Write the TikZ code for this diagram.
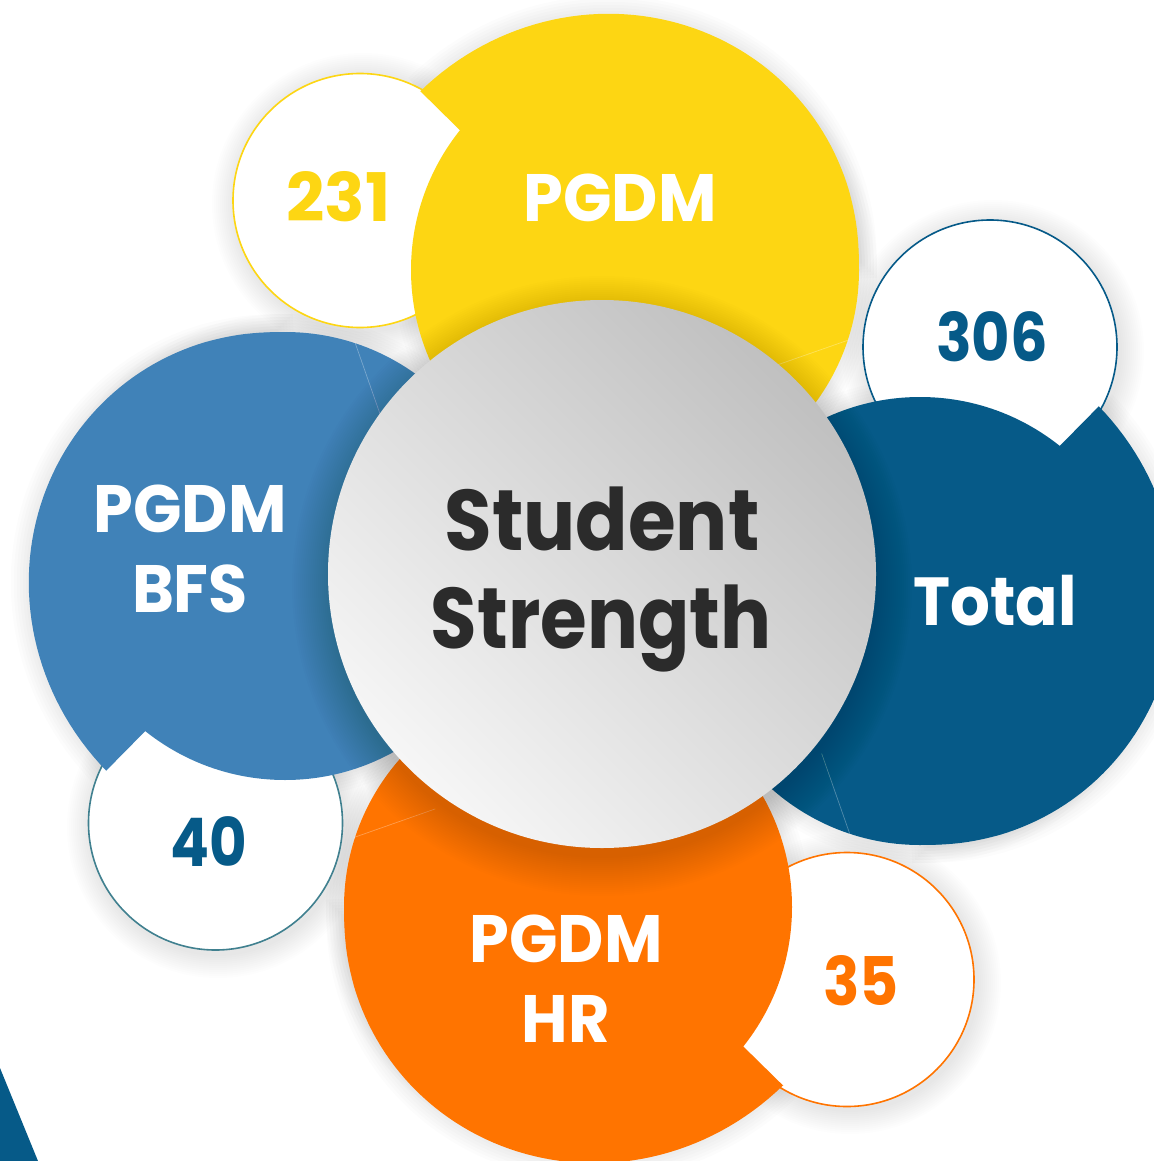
\documentclass[tikz,border=0pt]{standalone}
\usepackage{fontspec}
\setmainfont{Poppins}
\definecolor{cYel}{RGB}{253,214,19}
\definecolor{cBfs}{RGB}{64,130,184}
\definecolor{cTot}{RGB}{6,90,136}
\definecolor{cOra}{RGB}{255,116,0}
\definecolor{cTeal}{RGB}{64,128,143}
\definecolor{cTxt}{RGB}{43,43,43}
\definecolor{cHi}{RGB}{246,246,246}
\definecolor{cLo}{RGB}{192,192,192}
\begin{document}
\begin{tikzpicture}[x=1pt,y=-1pt,
  declare function={R(\t)=224+56*(1-\t/140)^1.3;},
  bulge/.style n args={3}{insert path={(#1,#2) -- ({#1+224*cos(#3)},{#2+224*sin(#3)})
     -- ({#1+280*cos(#3+1.2)},{#2+280*sin(#3+1.2)})
     -- plot[domain=1.2:139,samples=70,variable=\t] ({#1+R(\t)*cos(#3+\t)},{#2+R(\t)*sin(#3+\t)})
     -- cycle}},
  seam/.style n args={3}{insert path={({#1+225*cos(#3+159.5)},{#2+225*sin(#3+159.5)})
     -- ({#1+165*cos(#3+178)},{#2+165*sin(#3+178)})}},
  wcirc/.style={fill=white, line width=1.6pt},
  seamline/.style={white, opacity=0.3, line width=0.7pt},
  lbl/.style={anchor=base, inner sep=0pt, text=white, font=\bfseries\fontsize{67}{67}\selectfont},
  num/.style={anchor=base, inner sep=0pt, font=\bfseries\fontsize{67}{67}\selectfont},
  big/.style={anchor=base, inner sep=0pt, text=cTxt, font=\bfseries\fontsize{86}{86}\selectfont}
]
\useasboundingbox (0,0) rectangle (1153,1161);
\fill[white] (0,0) rectangle (1153,1161);

% corner triangle
\fill[cTot] (0,1068) -- (38,1161) -- (0,1161) -- cycle;

% soft shadows of the petals
\foreach \w in {36,30,24,18,12,6}{
  \draw[black, opacity=0.012, line width=\w pt, bulge={635}{270}{-141.4}];
  \draw[black, opacity=0.012, line width=\w pt, bulge={920}{621}{-51.4}];
  \draw[black, opacity=0.012, line width=\w pt, bulge={568}{907}{38.5}];
  \draw[black, opacity=0.012, line width=\w pt, bulge={285}{556}{128.6}];
  \draw[black, opacity=0.012, line width=\w pt] (635,270) circle[radius=224pt];
  \draw[black, opacity=0.012, line width=\w pt] (920,621) circle[radius=224pt];
  \draw[black, opacity=0.012, line width=\w pt] (568,907) circle[radius=224pt];
  \draw[black, opacity=0.012, line width=\w pt] (285,556) circle[radius=224pt];
}

% shadows of the small circles
\foreach \k in {1,...,12}{
  \fill[black, opacity=0.007] (363,204) circle[radius=127pt+2pt*\k];
  \fill[black, opacity=0.007] (993,351) circle[radius=127pt+2pt*\k];
  \fill[black, opacity=0.007] (850,983) circle[radius=127pt+2pt*\k];
  \fill[black, opacity=0.007] (218,827) circle[radius=127pt+2pt*\k];
}

% small white circles
\draw[wcirc, draw=cYel] (360,200.5) circle[radius=127pt];
\draw[wcirc, draw=cTot] (990,347) circle[radius=127pt];
\draw[wcirc, draw=cOra] (847,979.5) circle[radius=127pt];
\draw[wcirc, draw=cTeal] (215.5,823) circle[radius=127pt];

% petals (bulge + disc)
\fill[cYel, bulge={635}{270}{-141.4}];
\fill[cYel] (635,270) circle[radius=224pt];
\fill[cTot, bulge={920}{621}{-51.4}];
\fill[cTot] (920,621) circle[radius=224pt];
\fill[cOra, bulge={568}{907}{38.5}];
\fill[cOra] (568,907) circle[radius=224pt];
\fill[cBfs, bulge={285}{556}{128.6}];
\fill[cBfs] (285,556) circle[radius=224pt];

% faint seams
\draw[seamline, seam={635}{270}{-141.4}];
\draw[seamline, seam={920}{621}{-51.4}];
\draw[seamline, seam={568}{907}{38.5}];
\draw[seamline, seam={285}{556}{128.6}];

% centre shadow
\foreach \k in {1,...,20}{
  \fill[black, opacity=0.008] (602,586) circle[radius=270pt+2pt*\k];
}
% centre circle
\shade[shading=axis, top color=cLo, bottom color=cHi, shading angle=-45]
  (602,574) circle[radius=274pt];

% texts
\node[lbl] (tPgdm) at (620,222) {\scalebox{0.95}[1]{PGDM}};
\node[num, text=cYel] (t231) at (338.5,222) {231};
\node[num, text=cTot] (t306) at (992,361) {\scalebox{0.88}[1]{306}};
\node[lbl, font=\bfseries\fontsize{68}{68}\selectfont] (tTotal) at (995,625) {\scalebox{0.92}[1]{Total}};
\node[lbl] (tBfs1) at (190,532) {\scalebox{0.95}[1]{PGDM}};
\node[lbl] (tBfs2) at (190,612) {\scalebox{0.95}[1]{BFS}};
\node[num, text=cTot] (t40) at (209,866) {\scalebox{0.86}[1]{40}};
\node[lbl] (tHr1) at (566,962) {\scalebox{0.95}[1]{PGDM}};
\node[lbl] (tHr2) at (566,1042) {\scalebox{0.95}[1]{HR}};
\node[num, text=cOra] (t35) at (861,1005) {\scalebox{0.9}[1]{35}};
\node[big] (tS1) at (602,550) {\scalebox{0.9}[1]{Student}};
\node[big] (tS2) at (601,648) {\scalebox{0.88}[1]{Strength}};
\end{tikzpicture}
\end{document}
